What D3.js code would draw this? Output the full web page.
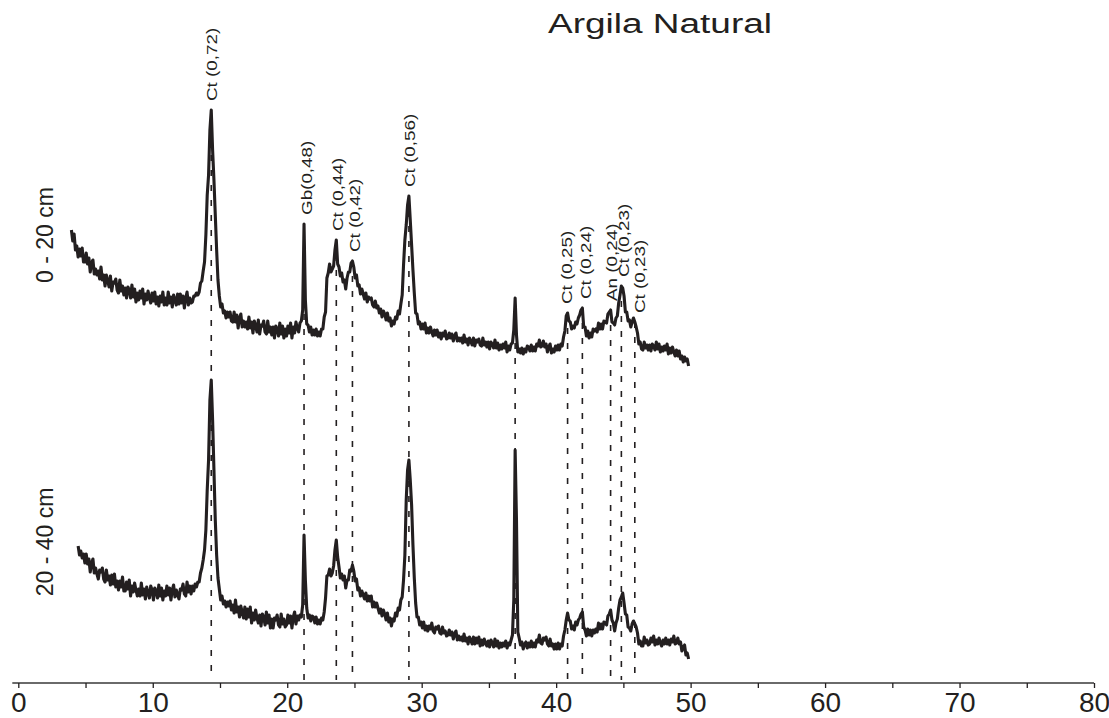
<!DOCTYPE html>
<html><head><meta charset="utf-8">
<script src="https://cdn.jsdelivr.net/npm/d3@7"></script>
<style>
html,body{margin:0;padding:0;background:#fff;}
svg{display:block;font-family:"Liberation Sans", Arial, sans-serif;}
</style>
</head><body>
<svg id="chart" width="1109" height="718"></svg>
<script>
// ---------- data ----------
const chartTitle = "Argila Natural";
const sampleLabels = ["0 - 20 cm", "20 - 40 cm"];
const xTickValues = [0,5,10,15,20,25,30,35,40,45,50,55,60,65,70,75,80];
const xTickLabels = ["0","","10","","20","","30","","40","","50","","60","","70","","80"];

// diffractograms: start angle (2θ), step (2θ), intensities (arbitrary units)
const topStart = 3.95;      // 0 - 20 cm
const bottomStart = 4.45;   // 20 - 40 cm
const stepDeg = 0.1;
const topOffset = 300;      // vertical stacking of the upper trace

const topSeries = [
146,135,142,126,130,119,127,120,128,114,
114,123,112,118,104,113,116,102,107,101,
105,97,109,96,101,90,101,95,89,100,
85,94,93,97,86,83,96,85,90,81,
88,78,89,86,78,91,79,87,74,83,
76,85,78,87,72,82,76,85,78,73,
83,75,84,72,79,70,80,74,84,71,
78,71,84,73,79,69,81,76,71,82,
72,82,73,80,68,78,84,71,78,73,
74,80,80,83,81,84,93,95,105,114,
141,181,201,246,266,226,196,161,126,96,
80,69,72,63,65,58,64,59,64,55,
54,64,54,61,48,58,62,49,55,49,
54,47,59,48,54,43,55,50,44,56,
42,51,50,55,44,42,55,44,49,41,
49,38,50,47,40,53,42,50,38,47,
40,50,43,53,38,49,43,54,48,44,
53,55,66,152,76,52,51,44,49,41,
46,41,47,40,44,40,47,47,59,64,
98,103,112,104,107,110,126,136,112,109,
100,103,94,96,87,98,104,104,113,115,
109,98,101,90,91,82,87,82,77,83,
74,79,77,78,71,69,75,68,70,63,
67,59,65,62,56,63,55,58,50,55,
52,59,57,65,62,72,81,111,136,151,
171,180,156,131,106,83,63,62,52,54,
47,52,47,53,43,48,43,49,44,40,
46,41,46,39,43,37,43,40,45,37,
38,43,38,42,35,40,43,35,38,35,
38,33,41,34,37,31,38,35,31,38,
30,36,34,37,31,30,38,31,34,29,
34,27,34,32,28,36,28,33,26,31,
27,32,28,34,24,30,26,32,33,46,
78,41,24,27,23,28,22,27,24,30,
29,25,31,25,29,25,32,30,36,29,
30,35,29,32,24,29,32,23,27,24,
30,26,31,26,32,30,39,45,60,63,
55,54,47,50,48,54,52,58,61,66,
68,49,49,40,45,38,43,39,47,45,
47,44,53,47,52,47,55,54,53,62,
64,66,54,53,51,58,60,73,81,90,
88,80,64,64,55,56,49,54,58,54,
49,43,32,34,27,26,34,28,31,26,
31,25,32,30,26,34,27,32,24,29,
25,30,26,32,22,28,23,29,24,20,
26,20,25,17,20,14,19,15,17,10
];

const bottomSeries = [
130,121,125,118,122,
113,122,112,117,104,113,117,103,108,102,
97,106,104,108,97,94,106,96,100,91,
101,92,102,89,95,86,95,89,99,85,
85,94,87,96,80,90,84,93,86,80,
87,80,93,81,87,77,89,83,78,90,
86,76,88,85,78,91,80,88,76,85,
80,90,81,88,76,86,91,79,86,81,
77,87,86,92,82,80,94,84,90,82,
90,85,92,89,94,94,103,108,116,126,
146,186,216,276,296,256,206,156,121,98,
87,76,80,72,75,69,74,70,75,66,
71,63,76,64,69,59,70,64,58,69,
57,67,59,69,53,63,56,66,58,53,
61,50,62,59,51,64,53,61,48,57,
48,58,56,61,51,49,62,52,57,49,
51,61,53,60,48,59,64,52,60,56,
61,59,71,141,96,68,58,61,55,60,
59,53,59,52,56,52,58,56,64,78,
100,101,107,100,103,110,126,136,119,109,
98,102,96,100,88,96,96,106,105,111,
105,95,97,86,88,80,85,81,77,83,
75,80,75,80,69,74,69,73,68,63,
67,60,66,62,56,63,54,58,50,57,
55,63,60,68,66,76,79,96,121,176,
206,216,196,171,131,98,73,59,59,51,
54,48,54,46,50,45,50,47,53,45,
43,49,47,50,43,42,49,43,45,40,
41,46,41,44,37,42,45,36,40,36,
39,35,42,35,38,32,39,36,32,39,
32,38,33,39,30,36,31,37,33,30,
35,29,36,33,29,37,30,35,28,33,
29,33,30,35,28,33,31,36,41,76,
226,156,44,38,31,34,27,32,34,28,
33,29,35,29,33,29,36,34,41,33,
32,38,36,39,32,30,37,30,32,27,
32,27,33,27,32,30,40,46,56,63,
56,55,47,50,46,54,51,56,58,62,
64,49,46,40,47,41,46,40,46,43,
47,44,53,47,52,47,54,53,51,60,
62,66,56,53,45,53,57,68,76,79,
83,73,62,61,49,48,45,52,55,52,
49,43,32,35,30,30,39,33,36,31,
32,38,34,40,31,36,32,38,33,30,
36,32,38,32,36,31,37,34,40,32,
33,38,32,34,25,29,31,21,23,17
];

// reflections (2θ) marked with dashed lines
const dashTheta = [14.35, 21.25, 23.65, 24.85, 29.05, 36.95, 40.85, 41.95, 44.05, 44.85, 45.85];
// reflection labels (mineral, d-spacing in nm)
const peakLabels = ["Ct (0,72)", "Gb(0,48)", "Ct (0,44)", "Ct (0,42)", "Ct (0,56)", "Ct (0,25)", "Ct (0,24)", "An (0,24)", "Ct (0,23)", "Ct (0,23)"];
const labelTheta = [14.37, 21.43, 23.78, 25.04, 29.13, 40.77, 42.18, 44.12, 45.01, 46.24];
const labelDash  = [0, 1, 2, 3, 4, 6, 7, 8, 9, 10];

// ---------- layout ----------
const axisY = 683;
const ink = "#231f20";

const svg = d3.select("#chart");
const x = d3.scaleLinear().domain([0, 80]).range([18.3, 1094]);
const y = d3.scaleLinear().domain([0, 670]).range([676, 6]);

const topPts = topSeries.map((v, i) => [topStart + i * stepDeg, v + topOffset]);
const botPts = bottomSeries.map((v, i) => [bottomStart + i * stepDeg, v]);
const topAt = t => topSeries[Math.round((t - topStart) / stepDeg)] + topOffset;

// dashed reference lines
svg.append("g").selectAll("line").data(dashTheta).join("line")
  .attr("x1", d => x(d)).attr("x2", d => x(d))
  .attr("y1", d => y(topAt(d))).attr("y2", axisY - 3)
  .attr("stroke", ink).attr("stroke-width", 1.6)
  .attr("stroke-dasharray", "6,9");

// traces
const line = d3.line().x(d => x(d[0])).y(d => y(d[1]));
[topPts, botPts].forEach(pts => {
  svg.append("path").datum(pts).attr("d", line)
    .attr("fill", "none").attr("stroke", ink)
    .attr("stroke-width", 3.1).attr("stroke-linejoin", "round");
});

// peak labels
svg.append("g").selectAll("text").data(peakLabels).join("text")
  .attr("transform", (d, i) => `translate(${x(labelTheta[i])},${y(topAt(dashTheta[labelDash[i]])) - 9}) rotate(-90) scale(1.3,1)`)
  .attr("dy", "0.35em")
  .attr("font-size", 14.5).attr("fill", ink)
  .text(d => d);

// x axis
const axis = d3.axisBottom(x).tickValues(xTickValues).tickSize(5).tickSizeOuter(0)
  .tickFormat((d, i) => xTickLabels[i]);
const gAx = svg.append("g").attr("transform", `translate(0,${axisY})`).call(axis);
gAx.select(".domain").remove();
gAx.insert("line", ":first-child").attr("x1", x.range()[0] - 6).attr("x2", x.range()[1])
  .attr("stroke", "#6a6a6a").attr("stroke-width", 2);
gAx.selectAll(".tick line").attr("stroke", ink).attr("stroke-width", 1.3);
gAx.selectAll(".tick text").attr("y", 29).attr("dy", 0)
  .attr("font-size", 28).attr("fill", ink)
  .attr("font-family", "'Liberation Sans', Arial, sans-serif");

// sample labels
const sampleY = [235, 542];
svg.append("g").selectAll("text").data(sampleLabels).join("text")
  .attr("transform", (d, i) => `translate(53,${sampleY[i]}) rotate(-90)`)
  .attr("text-anchor", "middle").attr("font-size", 23).attr("fill", ink)
  .text(d => d);

// title
svg.append("text").attr("x", 548).attr("y", 33)
  .attr("font-size", 27).attr("fill", ink)
  .attr("textLength", 224).attr("lengthAdjust", "spacingAndGlyphs")
  .text(chartTitle);
</script>
</body></html>
